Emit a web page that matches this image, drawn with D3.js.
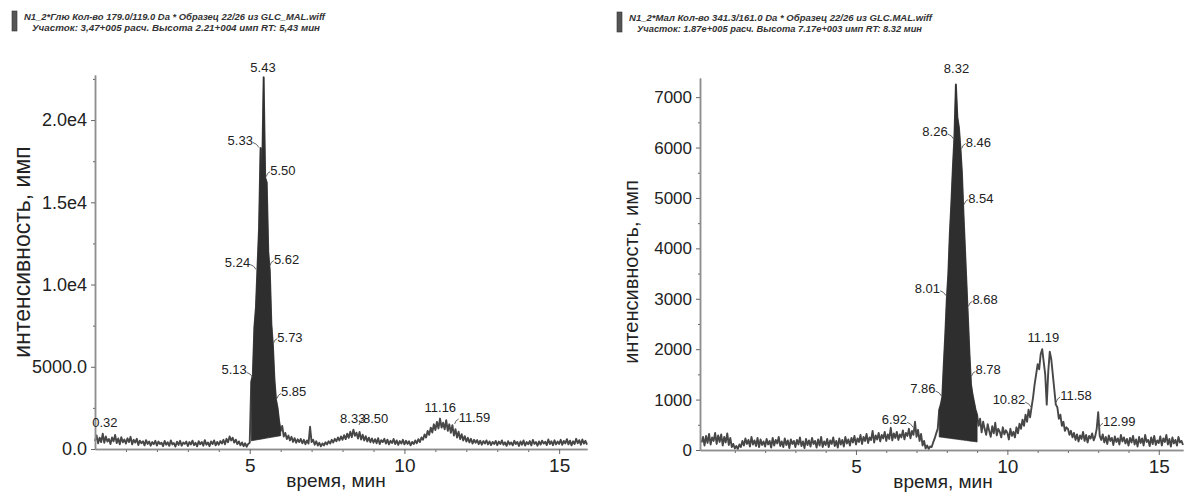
<!DOCTYPE html>
<html>
<head>
<meta charset="utf-8">
<script src="https://cdn.jsdelivr.net/npm/d3@7"></script>
<style>
  body { margin: 0; background: #fff; }
  svg { display: block; }
  text { font-family: "Liberation Sans", Arial, sans-serif; }
</style>
</head>
<body>
<svg id="svg" width="1187" height="493"></svg>
<script>
// ---------- data: glucose (left) ----------
var glcHeader = ["N1_2*Глю Кол-во 179.0/119.0 Da * Образец 22/26 из GLC_MAL.wiff",
                 "Участок: 3,47+005 расч. Высота 2.21+004 имп  RT: 5,43 мин"];
var glcStart = 0;      // min
var glcStep = 0.05;    // min
var glcTrace = [
  480, 820, 350, 690, 420, 930, 380, 760, 450, 610, 300, 700, 470, 850, 360, 640, 290, 720, 410, 580,
  330, 650, 420, 740, 280, 560, 390, 620, 240, 510, 350, 470, 220, 540, 310, 460, 200, 420, 290, 500,
  210, 450, 300, 380, 170, 490, 260, 410, 190, 520, 280, 360, 150, 440, 250, 500, 200, 390, 310, 460,
  180, 420, 280, 510, 230, 380, 160, 470, 290, 430, 200, 540, 260, 400, 170, 460, 300, 520, 220, 430,
  260, 480, 330, 560, 290, 620, 410, 760, 520, 680, 390, 570, 300, 460, 220, 400, 170, 350, 140, 310,
  380, 4100, 4500, 7400, 8600, 11000, 13400, 18300, 16600, 22600, 16500, 16200, 12000, 10800, 7600, 6300, 4200, 3000, 2500, 1700,
  1100, 1400, 760, 980, 600, 820, 520, 740, 430, 660, 380, 590, 420, 610, 350, 560, 290, 520, 330, 1350,
  420, 560, 260, 470, 210, 380, 160, 340, 220, 410, 280, 470, 330, 560, 400, 620, 470, 700, 520, 760,
  560, 840, 600, 930, 680, 1050, 720, 1180, 800, 990, 640, 1040, 580, 870, 520, 780, 460, 690, 410, 640,
  380, 600, 350, 660, 300, 540, 420, 620, 330, 570, 280, 500, 360, 610, 300, 520, 250, 480, 330, 560,
  280, 500, 310, 470, 220, 430, 300, 520, 350, 600, 420, 700, 560, 880, 700, 1100, 860, 1300, 1000, 1500,
  1150, 1650, 1250, 1850, 1300, 1600, 1200, 1750, 1100, 1500, 980, 1450, 820, 1200, 700, 1050, 600, 900, 520, 780,
  450, 680, 400, 620, 330, 560, 380, 540, 300, 500, 260, 480, 330, 520, 280, 460, 240, 430, 300, 490,
  230, 450, 300, 520, 260, 410, 190, 470, 280, 400, 220, 500, 300, 430, 180, 460, 260, 520, 210, 420,
  290, 480, 220, 550, 310, 420, 200, 460, 270, 510, 330, 440, 240, 580, 300, 470, 230, 530, 280, 450,
  310, 560, 250, 490, 340, 600, 280, 510, 220, 470, 300, 620, 350, 540, 260, 580, 330, 500, 270
];
var glcPeakWindow = [5.05, 6.0];
var glcPeakBase = [500, 810];
var glcYTicks = [0, 5000, 10000, 15000, 20000];
var glcYTickLabels = ["0.0", "5000.0", "1.0e4", "1.5e4", "2.0e4"];
var glcLabelText = ["0.32", "5.43", "5.33", "5.50", "5.24", "5.62", "5.73", "5.13", "5.85", "8.33", "8.50", "11.16", "11.59"];
var glcLabelValue = [1100, 22700, 18270, 16500, 10850, 11090, 6350, 4290, 3010, 1340, 1400, 2000, 1460];
var glcLabelSide = ["t", "t", "l", "r", "l", "r", "r", "l", "r", "t", "r", "t", "r"];

// ---------- data: maltose (right) ----------
var malHeader = ["N1_2*Мал Кол-во 341.3/161.0 Da * Образец 22/26 из GLC.MAL.wiff",
                 "Участок: 1.87e+005 расч. Высота 7.17e+003 имп RT: 8.32 мин"];
var malStart = -0.1;
var malStep = 0.05;
var malTrace = [
  150, 260,
  90, 280, 140, 320, 110, 250, 180, 340, 120, 290, 160, 310, 90, 260, 150, 330, 100, 240, 60, 120,
  30, 80, 20, 110, 60, 180, 90, 230, 120, 200, 70, 260, 110, 190, 80, 240, 60, 210, 100, 170,
  70, 220, 110, 180, 50, 240, 90, 200, 130, 260, 80, 170, 60, 230, 100, 190, 40, 210, 120, 180,
  60, 200, 110, 250, 80, 170, 40, 220, 100, 190, 70, 240, 120, 180, 50, 210, 90, 260, 60, 170,
  100, 220, 60, 190, 120, 250, 80, 180, 50, 230, 110, 200, 70, 260, 130, 210, 90, 240, 150, 280,
  110, 230, 160, 300, 120, 260, 180, 320, 140, 250, 200, 380, 150, 290, 210, 340, 170, 300, 230, 360,
  180, 310, 220, 440, 190, 330, 240, 360, 200, 310, 250, 390, 210, 340, 280, 420, 230, 380, 300, 560,
  260, 400, 180, 320, 90, 180, 30, 90, 20, 70, 60, 150, 230, 330, 420, 800, 900, 1050, 1700, 2300,
  3000, 3500, 4300, 4900, 5600, 6200, 7250, 6600, 6400, 6000, 5500, 4700, 4000, 3300, 2600, 1900, 1300, 1100, 950, 800,
  700, 480, 620, 350, 560, 420, 300, 510, 380, 260, 470, 330, 540, 290, 420, 360, 250, 450, 310, 390,
  340, 210, 420, 280, 360, 250, 450, 330, 520, 420, 600, 480, 700, 560, 800, 650, 850, 1050, 1300, 1500,
  1700, 1600, 1900, 2000, 1750, 1500, 900, 1550, 1950, 1800, 1500, 1200, 900, 850, 620, 700, 480, 560, 380, 450,
  420, 300, 380, 250, 340, 200, 310, 170, 290, 220, 360, 180, 300, 150, 280, 230, 330, 190, 270, 420,
  750, 280, 200, 310, 150, 260, 120, 290, 180, 240, 100, 270, 160, 230, 110, 300, 170, 250, 130, 220,
  90, 240, 150, 280, 110, 210, 70, 260, 140, 230, 90, 300, 160, 200, 80, 250, 120, 280, 100, 190,
  140, 270, 90, 230, 160, 300, 110, 220, 70, 250, 130, 200, 90, 260, 150, 180, 100
];
var malPeakWindow = [7.75, 9.0];
var malPeakBase = [260, 160];
var malYTicks = [0, 1000, 2000, 3000, 4000, 5000, 6000, 7000];
var malYTickLabels = ["0", "1000", "2000", "3000", "4000", "5000", "6000", "7000"];
var malLabelText = ["8.32", "8.26", "8.46", "8.54", "8.01", "8.68", "7.86", "8.78", "6.92", "11.19", "10.82", "11.58", "12.99"];
var malLabelValue = [7400, 6150, 5960, 4850, 3040, 2830, 1050, 1440, 430, 2070, 830, 930, 410];
var malLabelSide = ["t", "l", "r", "r", "l", "r", "l", "r", "l", "t", "l", "r", "r"];

var xMajor = [5, 10, 15];
var xMinor = [1, 2, 3, 4, 6, 7, 8, 9, 11, 12, 13, 14];

var svg = d3.select("#svg");

var drawPanel = function( cfg )
{
  var g = svg.append("g");

  var x = d3.scaleLinear().domain( cfg.xDomain ).range( [cfg.left, cfg.right] );
  var y = d3.scaleLinear().domain( cfg.yDomain ).range( [cfg.bottom, cfg.top] );

  // header block
  g.append("rect")
    .attr("x", cfg.hx).attr("y", cfg.hy)
    .attr("width", 5).attr("height", 20)
    .attr("fill", "#555").attr("stroke", "#333").attr("stroke-width", 0.6);
  cfg.header.forEach(function(line, i) {
    g.append("text")
      .attr("x", cfg.hx + 12 + i * 8)
      .attr("y", cfg.hy + 9 + i * 11)
      .attr("font-size", 9.5)
      .attr("font-weight", "bold")
      .attr("font-style", "italic")
      .attr("fill", "#333")
      .attr("textLength", cfg.headerLen[i])
      .attr("lengthAdjust", "spacingAndGlyphs")
      .text(line);
  });

  // data points
  var pts = cfg.trace.map(function(v, i) {
    return { t: cfg.start + i * cfg.step, v: v };
  });

  var line = d3.line()
    .x(function(d) { return x(d.t); })
    .y(function(d) { return y(d.v); });

  g.append("path")
    .datum(pts)
    .attr("d", line)
    .attr("fill", "none")
    .attr("stroke", "#474747")
    .attr("stroke-width", 1.9)
    .attr("stroke-linejoin", "round");

  // integrated peak, filled above the integration baseline
  var peakPts = pts.filter(function(d) {
    return d.t >= cfg.peakWindow[0] - 1e-6 && d.t <= cfg.peakWindow[1] + 1e-6;
  });
  var base = d3.scaleLinear().domain( cfg.peakWindow ).range( cfg.peakBase );
  g.append("path")
    .datum(peakPts)
    .attr("d", d3.area()
      .x(function(d) { return x(d.t); })
      .y0(function(d) { return y(base(d.t)); })
      .y1(function(d) { return y(d.v); }))
    .attr("fill", "#2e2e2e")
    .attr("stroke", "#2e2e2e")
    .attr("stroke-width", 0.8);

  // axes
  var styleAxis = function(sel) {
    sel.select(".domain").attr("stroke", "#8e8e8e").attr("stroke-width", 1.5);
    sel.selectAll(".tick line").attr("stroke", "#666");
    sel.selectAll(".tick text").attr("fill", "#222").attr("font-family", "\"Liberation Sans\", Arial, sans-serif");
  };

  g.append("g")
    .attr("transform", "translate(" + cfg.left + ",0)")
    .call(d3.axisLeft(y).tickValues(cfg.yMinor).tickSize(2).tickSizeOuter(0).tickFormat(""))
    .call(styleAxis);
  g.append("g")
    .attr("transform", "translate(" + cfg.left + ",0)")
    .call(d3.axisLeft(y).tickValues(cfg.yTicks).tickSize(4).tickSizeOuter(0).tickPadding(4)
      .tickFormat(function(d, i) { return cfg.yTickLabels[i]; }))
    .attr("font-size", cfg.tickFont)
    .call(styleAxis);

  g.append("g")
    .attr("transform", "translate(0," + cfg.bottom + ")")
    .call(d3.axisBottom(x).tickValues(xMinor).tickSize(3).tickSizeOuter(0).tickFormat(""))
    .call(styleAxis);
  g.append("g")
    .attr("transform", "translate(0," + cfg.bottom + ")")
    .call(d3.axisBottom(x).tickValues(xMajor).tickSize(5).tickSizeOuter(0).tickPadding(5)
      .tickFormat(d3.format("d")))
    .attr("font-size", 19)
    .call(styleAxis);

  // axis titles
  g.append("text")
    .attr("transform", "translate(" + cfg.yTitleX + "," + cfg.yTitleY + ") rotate(-90)")
    .attr("text-anchor", "middle")
    .attr("font-size", cfg.yTitleFont)
    .attr("fill", "#222")
    .text("интенсивность, имп");
  g.append("text")
    .attr("x", cfg.xTitleX).attr("y", cfg.xTitleY)
    .attr("text-anchor", "middle")
    .attr("font-size", 19)
    .attr("fill", "#222")
    .text("время, мин");

  // peak labels with small leader lines
  cfg.labelText.forEach(function(txt, i) {
    var px = x(+txt), py = y(cfg.labelValue[i]), side = cfg.labelSide[i];
    var t = g.append("text").attr("font-size", 13).attr("fill", "#222").text(txt);
    if (side == "t") {
      t.attr("x", px).attr("y", py - 4).attr("text-anchor", "middle");
    } else if (side == "l") {
      g.append("path")
        .attr("d", "M" + (px - 7) + "," + (py - 6) + " Q" + (px - 3) + "," + (py - 5) + " " + (px - 1) + "," + (py - 1))
        .attr("fill", "none").attr("stroke", "#555").attr("stroke-width", 0.9);
      t.attr("x", px - 7).attr("y", py - 4).attr("text-anchor", "end");
    } else {
      g.append("path")
        .attr("d", "M" + (px + 1) + "," + (py - 1) + " Q" + (px + 2) + "," + (py - 5) + " " + (px + 5) + "," + (py - 6))
        .attr("fill", "none").attr("stroke", "#555").attr("stroke-width", 0.9);
      t.attr("x", px + 5).attr("y", py - 3).attr("text-anchor", "start");
    }
  });
};

drawPanel({
  header: glcHeader, headerLen: [301, 288], hx: 12, hy: 11,
  trace: glcTrace, start: glcStart, step: glcStep,
  peakWindow: glcPeakWindow, peakBase: glcPeakBase,
  xDomain: [0, 15.9], yDomain: [0, 22740],
  left: 95, right: 587, top: 75, bottom: 449,
  yTicks: glcYTicks, yTickLabels: glcYTickLabels,
  yMinor: [2500, 7500, 12500, 17500, 22500], tickFont: 18,
  yTitleX: 30, yTitleY: 252, yTitleFont: 23,
  xTitleX: 336, xTitleY: 487,
  labelText: glcLabelText, labelValue: glcLabelValue, labelSide: glcLabelSide
});

drawPanel({
  header: malHeader, headerLen: [303, 285], hx: 617, hy: 12,
  trace: malTrace, start: malStart, step: malStep,
  peakWindow: malPeakWindow, peakBase: malPeakBase,
  xDomain: [-0.15, 15.8], yDomain: [0, 7380],
  left: 700, right: 1183, top: 78, bottom: 450,
  yTicks: malYTicks, yTickLabels: malYTickLabels,
  yMinor: [500, 1500, 2500, 3500, 4500, 5500, 6500], tickFont: 17,
  yTitleX: 638, yTitleY: 272, yTitleFont: 20,
  xTitleX: 943, xTitleY: 488,
  labelText: malLabelText, labelValue: malLabelValue, labelSide: malLabelSide
});
</script>
</body>
</html>
